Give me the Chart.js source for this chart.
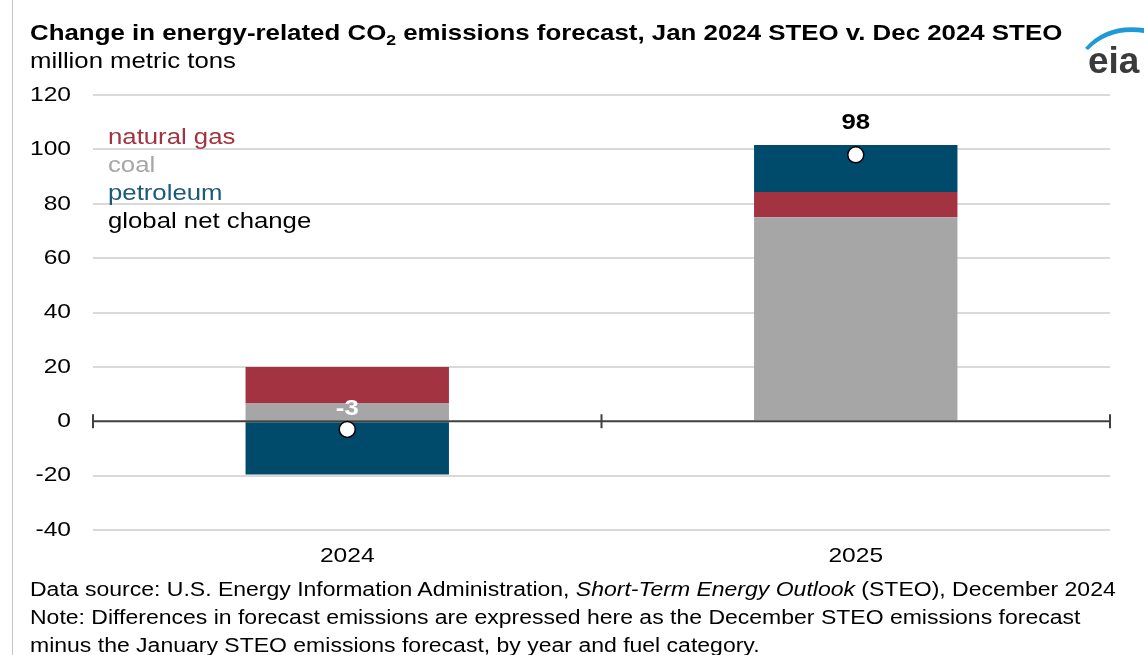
<!DOCTYPE html>
<html>
<head>
<meta charset="utf-8">
<script src="https://cdn.jsdelivr.net/npm/chart.js@4"></script>
<style>
    body { margin: 0; background: #fff; font-family: "Liberation Sans", Arial, sans-serif; }
    .wrap { position: relative; width: 1144px; height: 655px; overflow: hidden; }
    .edge { position: absolute; left: 12px; top: 0; width: 1px; height: 655px; background: #c8c8c8; }
    canvas { position: absolute; left: 0; top: 0; }
    .wide { transform-origin: left top; white-space: nowrap; }
    .title { position: absolute; left: 30px; top: 20px; font-size: 22px; font-weight: bold; color: #000; transform: scaleX(1.175); }
    .title sub { font-size: 15px; vertical-align: -5px; line-height: 0; }
    .units { position: absolute; left: 30px; top: 48px; font-size: 22px; color: #000; transform: scaleX(1.17); }
    .legend { position: absolute; left: 108px; top: 123px; font-size: 22px; line-height: 28px; transform: scaleX(1.17); }
    .foot { position: absolute; left: 30px; top: 575px; font-size: 20px; line-height: 28px; color: #000; transform: scaleX(1.15); }
    .logo { position: absolute; left: 1080px; top: 20px; }
</style>
</head>
<body>
<div class="wrap">
    <div class="edge"></div>
    <canvas id="myChart" width="1144" height="655"></canvas>
    <div class="title wide">Change in energy-related CO<sub>2</sub> emissions forecast, Jan 2024 STEO v. Dec 2024 STEO</div>
    <div class="units wide">million metric tons</div>
    <div class="legend wide">
        <div style="color:#a33340">natural gas</div>
        <div style="color:#a6a6a6">coal</div>
        <div style="color:#1a5a7a">petroleum</div>
        <div style="color:#000">global net change</div>
    </div>
    <svg class="logo" width="64" height="60" viewBox="0 0 64 60">
        <path d="M5 28 Q26 3 64 8 L64 13 Q30 8 8 30 Z" fill="#1f9ad7"/>
        <text x="8" y="53" font-family="Liberation Sans, Arial" font-weight="bold" font-size="37" fill="#3a3a3a">eia</text>
    </svg>
    <div class="foot wide">
        <div>Data source: U.S. Energy Information Administration, <i>Short-Term Energy Outlook</i> (STEO), December 2024</div>
        <div>Note: Differences in forecast emissions are expressed here as the December STEO emissions forecast</div>
        <div>minus the January STEO emissions forecast, by year and fuel category.</div>
    </div>
</div>
<script>
const years = ["2024", "2025"];
const coal = [6.5, 75.0];
const naturalGas = [13.5, 9.3];
const petroleum = [-19.6, 17.3];
const netChange = [-3, 98];

const axisColor = "#404040";
const fontFamily = "'Liberation Sans', Arial, sans-serif";
const stretch = 1.17;

// text drawn a little wider than the font's natural width
function wideText(ctx, text, x, y, align) {
    ctx.save();
    ctx.translate(x, y);
    ctx.scale(stretch, 1);
    ctx.textAlign = align;
    ctx.textBaseline = "middle";
    ctx.fillText(text, 0, 0);
    ctx.restore();
}

// dark zero line with tick marks at the category edges
const zeroLine = {
    id: "zeroLine",
    beforeDatasetDraw(chart, args) {
        if (args.meta.type !== "line") return;
        const ctx = chart.ctx;
        const x = chart.scales.x;
        const y0 = chart.scales.y.getPixelForValue(0);
        ctx.save();
        ctx.strokeStyle = axisColor;
        ctx.lineWidth = 2;
        ctx.beginPath();
        ctx.moveTo(x.left, y0);
        ctx.lineTo(x.right, y0);
        const edges = [x.left, (x.left + x.right) / 2, x.right];
        edges.forEach(px => {
            ctx.moveTo(px, y0 - 7);
            ctx.lineTo(px, y0 + 7);
        });
        ctx.stroke();
        ctx.restore();
    }
};

// axis labels, drawn here so they can be widened like the rest of the text
const axisLabels = {
    id: "axisLabels",
    afterDraw(chart) {
        const ctx = chart.ctx;
        const x = chart.scales.x;
        const y = chart.scales.y;
        ctx.save();
        ctx.fillStyle = "#000";
        ctx.font = "21px " + fontFamily;
        y.ticks.forEach(t => {
            wideText(ctx, String(t.value), x.left - 22, y.getPixelForValue(t.value), "right");
        });
        x.ticks.forEach((t, i) => {
            wideText(ctx, years[i], x.getPixelForTick(i), y.bottom + 26, "center");
        });
        ctx.restore();
    }
};

// value labels above the net change markers
const netLabels = {
    id: "netLabels",
    afterDatasetsDraw(chart) {
        const ctx = chart.ctx;
        const meta = chart.getDatasetMeta(3);
        const lift = [20, 32];
        const colors = ["#ffffff", "#000000"];
        ctx.save();
        ctx.font = "bold 22px " + fontFamily;
        meta.data.forEach((pt, i) => {
            ctx.fillStyle = colors[i];
            wideText(ctx, String(netChange[i]), pt.x, pt.y - lift[i], "center");
        });
        ctx.restore();
    }
};

new Chart(document.getElementById("myChart"), {
    type: "bar",
    data: {
        labels: years,
        datasets: [
            { label: "coal", data: coal, backgroundColor: "#a6a6a6", stack: "fuel", order: 1 },
            { label: "natural gas", data: naturalGas, backgroundColor: "#a33340", stack: "fuel", order: 1 },
            { label: "petroleum", data: petroleum, backgroundColor: "#004b6b", stack: "fuel", order: 1 },
            {
                type: "line", label: "global net change", data: netChange, stack: "net", order: 0,
                showLine: false, pointRadius: 8, pointBackgroundColor: "#ffffff",
                pointBorderColor: "#000000", pointBorderWidth: 1.5
            }
        ]
    },
    options: {
        responsive: false,
        animation: false,
        layout: { padding: { top: 95, right: 34, bottom: 0, left: 0 } },
        barPercentage: 0.4,
        categoryPercentage: 1,
        plugins: { legend: { display: false }, tooltip: { enabled: false } },
        scales: {
            x: {
                stacked: true,
                grid: { display: false },
                border: { display: false },
                ticks: { display: false },
                afterFit(scale) { scale.height = 125; }
            },
            y: {
                stacked: true,
                min: -40, max: 120,
                ticks: { display: false, stepSize: 20 },
                grid: {
                    drawTicks: false,
                    lineWidth: 2,
                    color: c => c.tick && c.tick.value === 0 ? "rgba(0,0,0,0)" : "#d9d9d9"
                },
                border: { display: false },
                afterFit(scale) { scale.width = 93; }
            }
        }
    },
    plugins: [zeroLine, axisLabels, netLabels]
});
</script>
</body>
</html>
